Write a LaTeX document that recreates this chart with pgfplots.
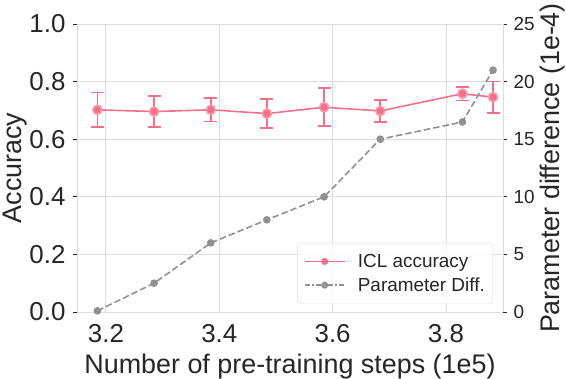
\documentclass[border=0pt]{standalone}
\usepackage{pgfplots}
\pgfplotsset{compat=1.18}
\usepackage{fontspec}
\setmainfont{Liberation Sans}
\definecolor{iclpink}{RGB}{244,112,137}
\definecolor{pdgray}{RGB}{145,145,145}
\definecolor{txt}{RGB}{38,38,38}
\definecolor{gridc}{RGB}{220,220,220}
\newcommand{\tickfs}{\fontsize{26}{28}\selectfont}
\newcommand{\labfs}{\fontsize{27}{29}\selectfont}
\newcommand{\midfs}{\fontsize{19}{21}\selectfont}
\begin{document}
\begin{tikzpicture}
\pgfplotsset{
  every axis/.append style={
    scale only axis, width=426bp, height=288bp,
    xmin=3.149, xmax=3.9006,
    /pgf/number format/assume math mode=true,
    axis line style={gridc, line width=0.9pt},
    tick label style={text=txt},
    label style={text=txt, font=\labfs},
    major tick length=4bp,
    tick align=outside,
  },
}
\begin{axis}[
  name=ax,
  ymin=0, ymax=1,
  ytick={0,0.2,0.4,0.6,0.8,1.0},
  xtick={3.2,3.4,3.6,3.8},
  yticklabel style={font=\tickfs, xshift=-4bp, /pgf/number format/fixed, /pgf/number format/fixed zerofill, /pgf/number format/precision=1},
  xticklabel style={font=\tickfs, yshift=-5bp, /pgf/number format/fixed, /pgf/number format/fixed zerofill, /pgf/number format/precision=1},
  xtick style={draw=none},
  ytick style={txt, line width=0.8pt},
  grid=major,
  major grid style={gridc, line width=0.9pt},
  ylabel={Accuracy},
  ylabel shift=-4bp,
  xlabel={Number of pre-training steps (1e5)},
  xlabel style={yshift=-4bp},
]
\addplot[iclpink, line width=1.6pt, mark=*, mark size=4.5bp,
  mark options={fill=iclpink, draw=iclpink!70!white},
  error bars/.cd, y dir=both, y explicit,
  error bar style={line width=1.6pt, iclpink},
  error mark options={rotate=90, line width=1.6pt, mark size=6.5bp, iclpink}]
coordinates {
  (3.185,0.702) +- (0,0.060)
  (3.285,0.696) +- (0,0.053)
  (3.385,0.702) +- (0,0.041)
  (3.484,0.689) +- (0,0.050)
  (3.585,0.711) +- (0,0.066)
  (3.684,0.698) +- (0,0.038)
  (3.829,0.758) +- (0,0.023)
  (3.883,0.746) +- (0,0.055)
};
\end{axis}
\begin{axis}[
  axis y line*=right,
  axis x line=none,
  ymin=0, ymax=25,
  ytick={0,5,10,15,20,25},
  yticklabel style={font=\midfs, xshift=3bp},
  ytick style={txt, line width=0.8pt},
  ylabel={Parameter difference (1e-4)},
  ylabel shift=-1bp,
  legend image code/.code={
    \path (0bp,0bp) (51bp,0bp);
    \draw[mark repeat=2,mark phase=2,#1,line width=2pt] plot coordinates {(0bp,0bp) (20bp,0bp) (40bp,0bp)};},
  legend style={at={(0.9765,0.028)}, anchor=south east, draw=gridc, rounded corners=3pt,
    fill=white, fill opacity=0.8, text opacity=1, font=\midfs, text=txt,
    cells={anchor=west}, row sep=4.7bp, inner xsep=6bp, inner ysep=9bp},
]
\addlegendimage{iclpink, mark=*, mark size=2.5bp}
\addlegendentry{ICL accuracy}
\addlegendimage{pdgray, dash pattern=on 5bp off 2.5bp on 1.5bp off 2.5bp, mark=*, mark size=2.5bp, mark options={solid}}
\addlegendentry{Parameter Diff.}
\addplot[pdgray, line width=1.6pt, dash pattern=on 6.5bp off 3bp, mark=*, mark size=3bp,
  mark options={solid, fill=pdgray, draw=pdgray}, forget plot]
coordinates {
  (3.185,0.1) (3.285,2.5) (3.385,6.0) (3.484,8.0)
  (3.585,10.0) (3.684,15.0) (3.829,16.5) (3.883,21.0)
};
\end{axis}
\pgfresetboundingbox
\path (ax.south west) ++(-77bp,-66bp) (ax.north east) ++(63bp,24bp);
\end{tikzpicture}
\end{document}
